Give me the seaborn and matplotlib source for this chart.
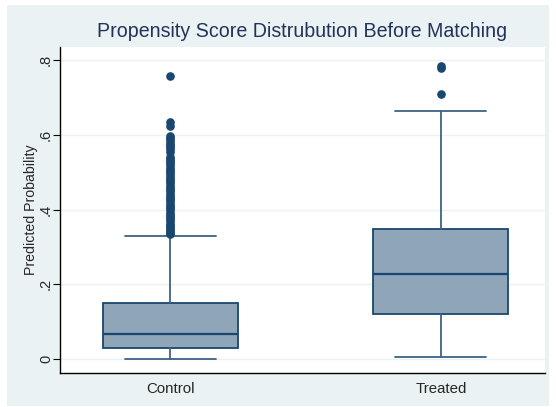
import matplotlib
matplotlib.use('Agg')
import matplotlib.pyplot as plt
import seaborn as sns
from matplotlib.patches import Rectangle

### DATA ###
groups = ['Control', 'Treated']
q1 = [0.029, 0.121]
median = [0.068, 0.228]
q3 = [0.150, 0.349]
whisker_low = [0.000, 0.004]
whisker_high = [0.330, 0.665]
control_fliers = [0.334, 0.338, 0.342, 0.347, 0.352, 0.357, 0.362, 0.368, 0.374, 0.380,
                  0.386, 0.392, 0.398, 0.404, 0.410, 0.416, 0.422, 0.428, 0.434, 0.440,
                  0.446, 0.452, 0.458, 0.464, 0.470, 0.476, 0.482, 0.488, 0.494, 0.500,
                  0.506, 0.512, 0.518, 0.524, 0.530, 0.536, 0.541, 0.555, 0.561, 0.567,
                  0.573, 0.579, 0.585, 0.591, 0.597, 0.623, 0.635, 0.757]
treated_fliers = [0.708, 0.779, 0.784]
yticks = [0, 0.2, 0.4, 0.6, 0.8]
ytick_labels = ['0', '.2', '.4', '.6', '.8']

### STYLE ###
navy = '#1a476f'
box_fill = '#8fa5b8'
region = '#eaf2f3'

sns.set_style('white')
plt.rcParams['font.family'] = ['Liberation Sans', 'DejaVu Sans']

fig = plt.figure(figsize=(5.56, 4.07), dpi=100)
fig.patch.set_facecolor('white')
bg = Rectangle((7 / 556, 1 / 407), 542 / 556, 401 / 407,
               transform=fig.transFigure, facecolor=region,
               edgecolor='none', zorder=-5)
fig.patches.append(bg)
ax = fig.add_axes([60 / 556, 34 / 407, 485 / 556, 326 / 407])
ax.set_zorder(2)
ax.set_facecolor('white')

# box stats straight from the values
stats = []
fliers = [control_fliers, treated_fliers]
for i, g in enumerate(groups):
    stats.append({'label': g, 'med': median[i], 'q1': q1[i], 'q3': q3[i],
                  'whislo': whisker_low[i], 'whishi': whisker_high[i],
                  'fliers': fliers[i]})

ax.bxp(stats, positions=[0, 1], widths=0.5, capwidths=0.336, patch_artist=True,
       boxprops=dict(facecolor=box_fill, edgecolor=navy, linewidth=1.3),
       medianprops=dict(color=navy, linewidth=1.6),
       whiskerprops=dict(color='#3d6388', linewidth=1.3),
       capprops=dict(color='#3d6388', linewidth=1.3),
       flierprops=dict(marker='o', markerfacecolor=navy, markeredgecolor=navy,
                       markersize=5.2, linestyle='none'))

ax.set_xlim(-0.408, 1.385)
ax.set_ylim(-0.0375, 0.835)
ax.set_yticks(yticks)
ax.set_yticklabels(ytick_labels, rotation=90, va='center', fontsize=10.5)
for t in ax.get_xticklabels():
    t.set_fontsize(10.8)
ax.yaxis.grid(True, color=region, linewidth=1.0)
ax.set_axisbelow(True)
ax.tick_params(axis='y', left=True, length=5, width=0.8, color='black', pad=0)
ax.tick_params(axis='x', bottom=False, pad=3)
sns.despine(ax=ax, top=True, right=True)
for s in ['left', 'bottom']:
    ax.spines[s].set_color('black')
    ax.spines[s].set_linewidth(1.0)

ax.set_ylabel('Predicted Probability', fontsize=10.2, labelpad=1)
ax.set_title('Propensity Score Distrubution Before Matching', fontsize=14.1,
             color='#22335a', pad=7)

fig.savefig('out.png', dpi=100)
